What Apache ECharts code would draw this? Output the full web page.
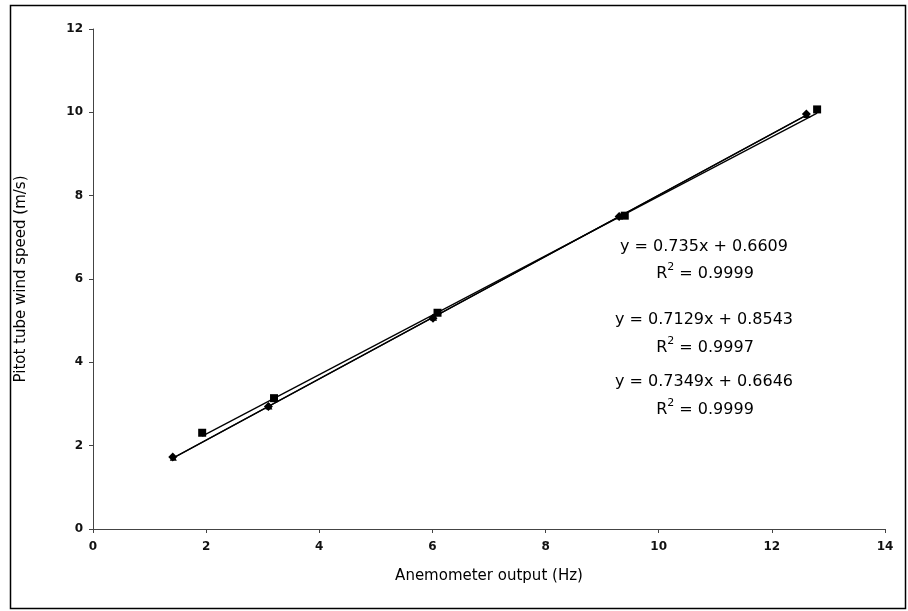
<!DOCTYPE html>
<html>
<head>
<meta charset="utf-8">
<script src="https://cdn.jsdelivr.net/npm/echarts@6/dist/echarts.min.js"></script>
<style>
  html, body { margin: 0; padding: 0; background: #fff; }
  #chart { width: 908px; height: 611px; }
</style>
</head>
<body>
<div id="chart"></div>
<script>
// Calibration runs: anemometer frequency (Hz) vs pitot-tube wind speed (m/s)
const runAx = [1.41, 3.10, 6.01, 9.30, 12.61];
const runAy = [1.73, 2.94, 5.06, 7.50, 9.96];
const runBx = [1.93, 3.20, 6.09, 9.40, 12.80];
const runBy = [2.31, 3.14, 5.19, 7.52, 10.07];
const runCx = [1.42, 3.11, 6.02, 9.31, 12.62];
const runCy = [1.72, 2.95, 5.08, 7.51, 9.95];

// Linear fits (slope, intercept, R²)
const fitA = [0.735, 0.6609, 0.9999];
const fitB = [0.7129, 0.8543, 0.9997];
const fitC = [0.7349, 0.6646, 0.9999];

const xTicks = [0, 2, 4, 6, 8, 10, 12, 14];
const yTicks = [0, 2, 4, 6, 8, 10, 12];

const font = 'DejaVu Sans';

function pts(xs, ys) { return xs.map((x, i) => [x, ys[i]]); }
function fitLine(xs, f) {
  const lo = Math.min(...xs), hi = Math.max(...xs);
  return [[lo, f[0] * lo + f[1]], [hi, f[0] * hi + f[1]]];
}
function eqText(f) {
  return 'y = ' + f[0] + 'x + ' + f[1];
}

const chart = echarts.init(document.getElementById('chart'));

const markerSeries = (name, xs, ys, symbol, size) => ({
  name, type: 'scatter', data: pts(xs, ys), symbol, symbolSize: size,
  itemStyle: { color: '#000', opacity: 1 }, z: 5, silent: true
});
const lineSeries = (name, xs, f) => ({
  name, type: 'line', data: fitLine(xs, f), symbol: 'none',
  lineStyle: { color: '#000', width: 1.3 }, z: 3, silent: true
});

const eqStyle = { font: '16px ' + font, fill: '#000', textAlign: 'center', textVerticalAlign: 'middle' };
function rLabel(x, y, r) {
  return {
    type: 'text', x, y,
    style: {
      text: '{b|R}{s|2}{b| = ' + r.toFixed(4) + '}',
      rich: {
        b: { fontFamily: font, fontSize: 16, color: '#000', verticalAlign: 'bottom', lineHeight: 20 },
        s: { fontFamily: font, fontSize: 11, color: '#000', verticalAlign: 'top', lineHeight: 20, padding: [0, 0, 8, 0] }
      },
      align: 'center', verticalAlign: 'middle'
    }
  };
}

chart.setOption({
  animation: false,
  grid: { left: 93, right: 23, top: 29, bottom: 82 },
  xAxis: {
    type: 'value', min: 0, max: 14, interval: 2,
    name: 'Anemometer output (Hz)', nameLocation: 'middle', nameGap: 40,
    nameTextStyle: { fontFamily: font, fontSize: 15, color: '#000' },
    axisLine: { lineStyle: { color: '#444', width: 1 } },
    axisTick: { show: true, length: 4, lineStyle: { color: '#444' } },
    axisLabel: { fontFamily: font, fontSize: 12, fontWeight: 'bold', color: '#111', margin: 12,
      formatter: v => xTicks.includes(v) ? String(v) : '' },
    splitLine: { show: false }
  },
  yAxis: {
    type: 'value', min: 0, max: 12, interval: 2,
    name: 'Pitot tube wind speed (m/s)', nameLocation: 'middle', nameGap: 64,
    nameTextStyle: { fontFamily: font, fontSize: 15, color: '#000' },
    axisLine: { show: true, lineStyle: { color: '#444', width: 1 } },
    axisTick: { show: true, length: 4, lineStyle: { color: '#444' } },
    axisLabel: { fontFamily: font, fontSize: 12, fontWeight: 'bold', color: '#111', margin: 10,
      formatter: v => yTicks.includes(v) ? String(v) : '' },
    splitLine: { show: false }
  },
  series: [
    lineSeries('fit A', runAx, fitA),
    lineSeries('fit B', runBx, fitB),
    lineSeries('fit C', runCx, fitC),
    markerSeries('run A', runAx, runAy, 'diamond', 9),
    markerSeries('run C', runCx, runCy, 'triangle', 7),
    markerSeries('run B', runBx, runBy, 'rect', 8)
  ],
  graphic: [
    { type: 'rect', shape: { x: 10.5, y: 5.5, width: 895, height: 603 },
      style: { fill: 'none', stroke: '#000', lineWidth: 1.5 }, silent: true },
    { type: 'text', x: 704, y: 247, style: Object.assign({ text: eqText(fitA) }, eqStyle) },
    rLabel(705, 272, fitA[2]),
    { type: 'text', x: 704, y: 320, style: Object.assign({ text: eqText(fitB) }, eqStyle) },
    rLabel(705, 346, fitB[2]),
    { type: 'text', x: 704, y: 382, style: Object.assign({ text: eqText(fitC) }, eqStyle) },
    rLabel(705, 408, fitC[2])
  ]
});
</script>
</body>
</html>
